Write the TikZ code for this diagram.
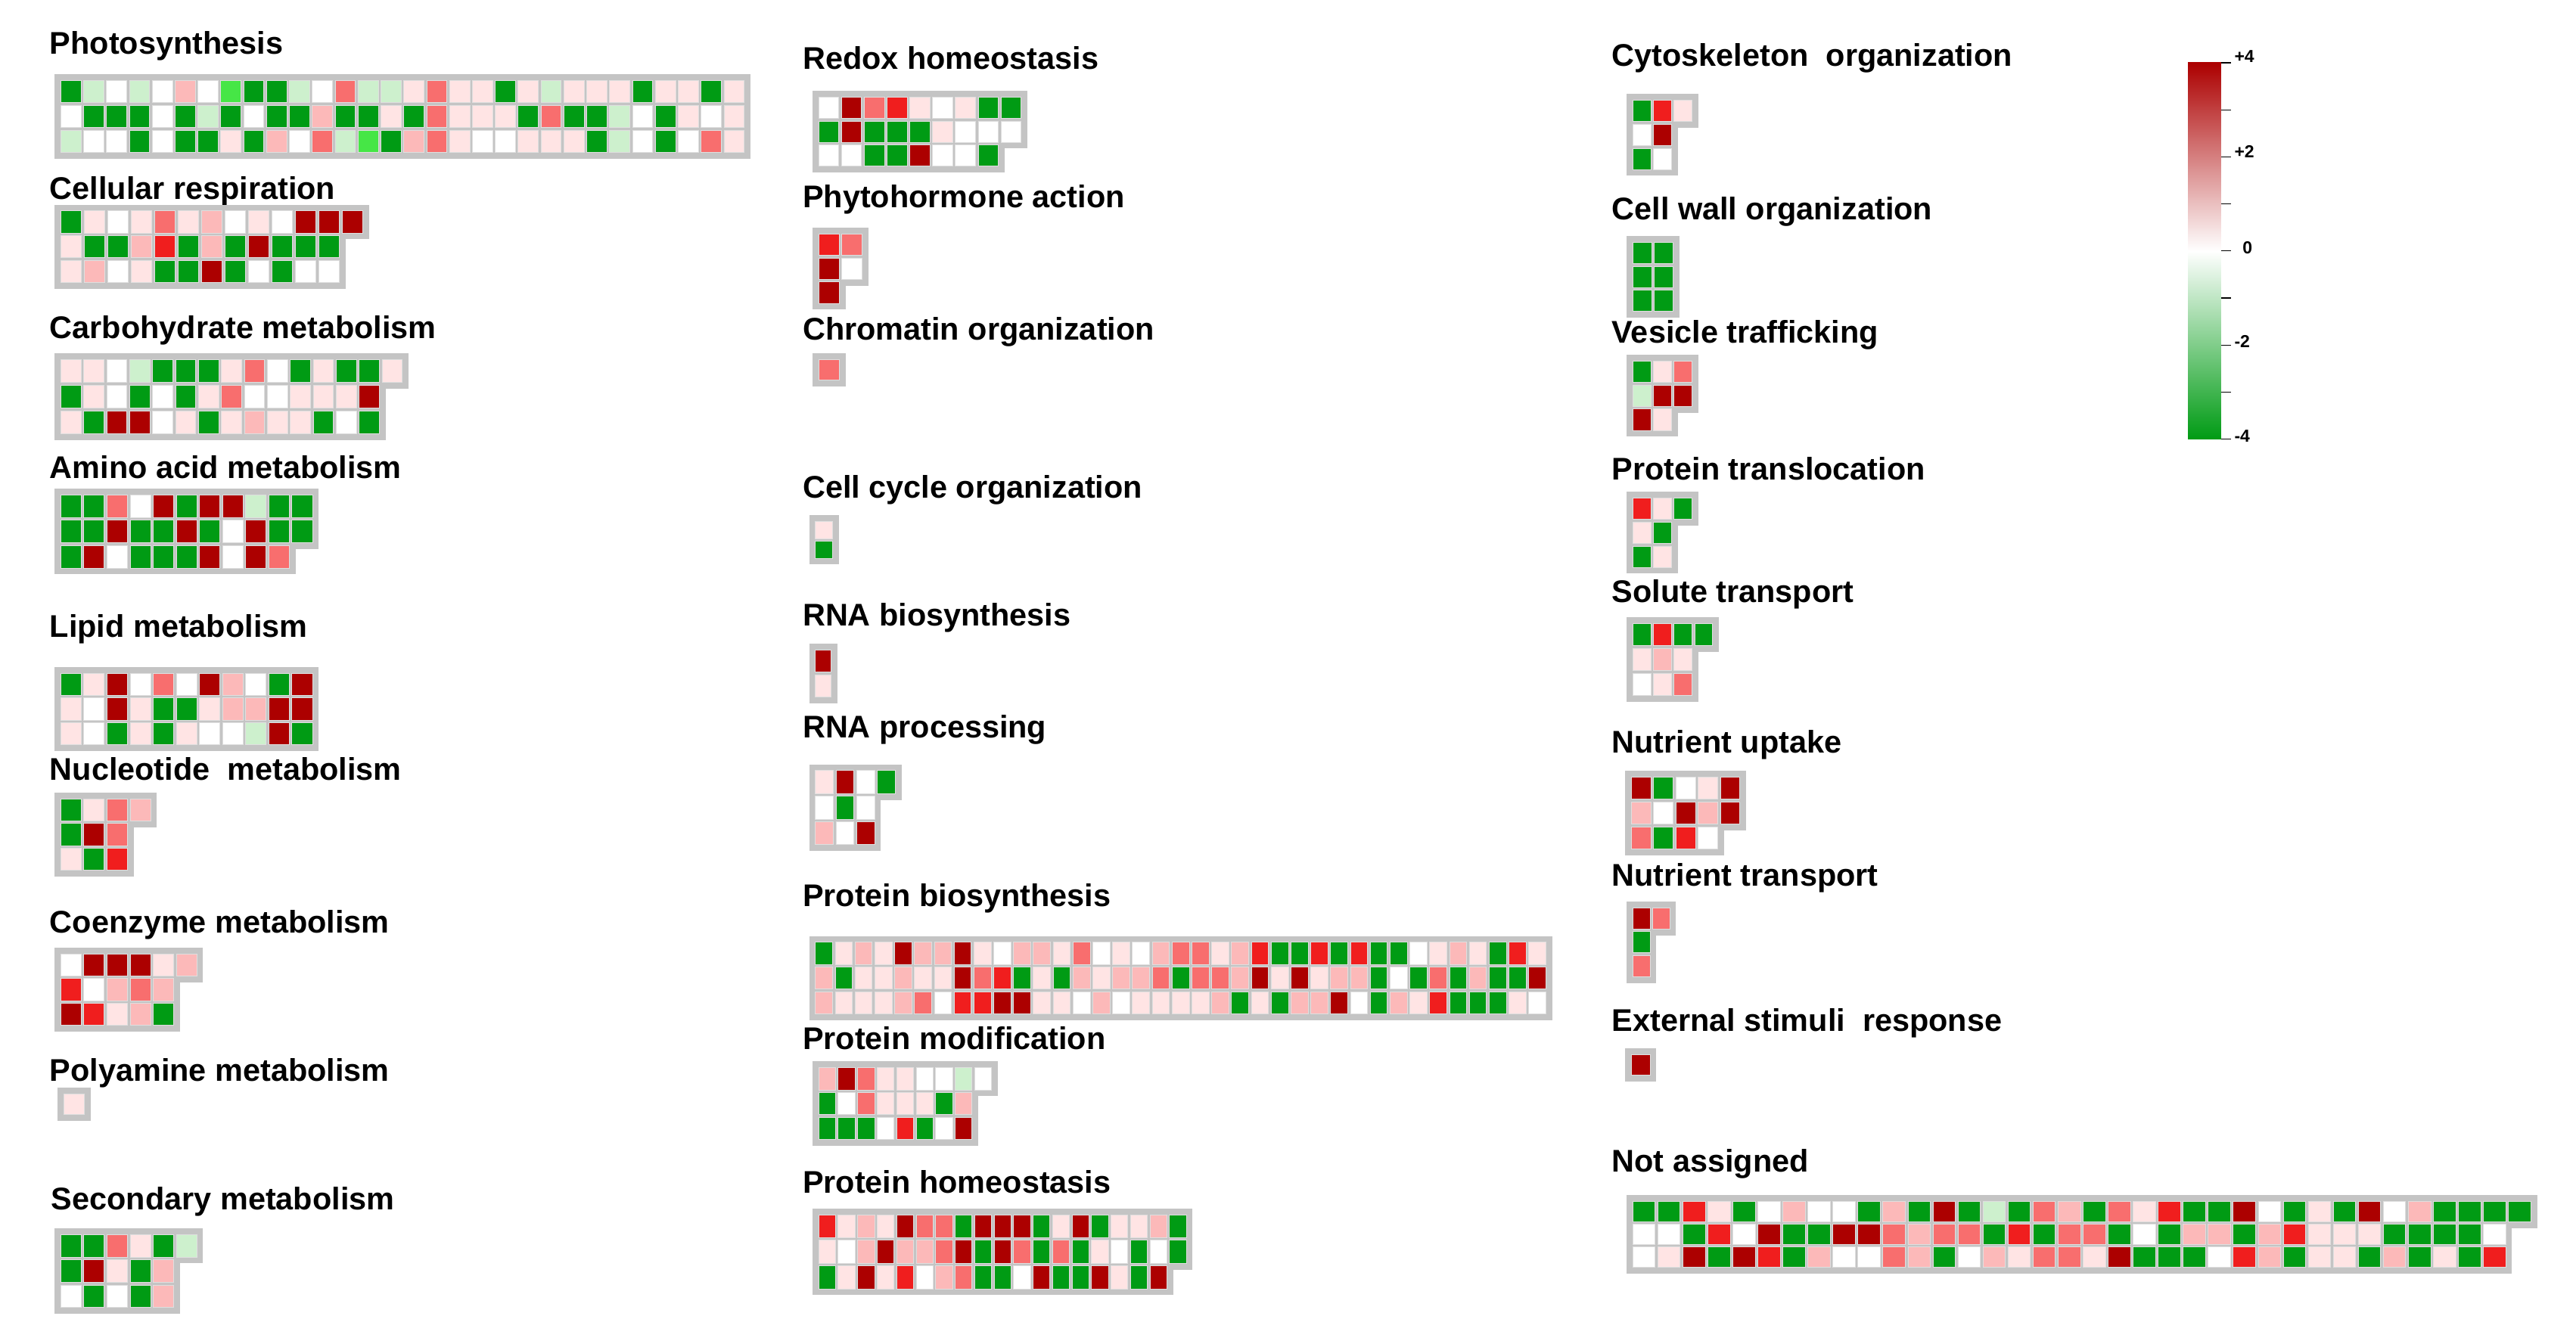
\documentclass[tikz,border=0pt]{standalone}
\usepackage{fontspec}
\setmainfont{Liberation Sans}
\definecolor{cG}{RGB}{0,155,20}
\definecolor{cL}{RGB}{205,240,205}
\definecolor{cg}{RGB}{70,230,70}
\definecolor{cW}{RGB}{255,255,255}
\definecolor{cq}{RGB}{255,228,228}
\definecolor{cp}{RGB}{252,185,185}
\definecolor{cP}{RGB}{248,110,110}
\definecolor{cR}{RGB}{240,30,30}
\definecolor{cD}{RGB}{172,0,0}
\definecolor{gbg}{RGB}{196,196,196}
\newcommand\hgrid[5]{%
 \foreach \r [count=\j from 0] in {#5}{\foreach \c [count=\i from 0] in \r {\fill[gbg] ({#1+\i*#3-3},{#2+\j*#4-3}) rectangle ++({#3+6},{#4+6});}}
 \foreach \r [count=\j from 0] in {#5}{\foreach \c [count=\i from 0] in \r {\fill[fill=c\c,draw=white!75!gray,line width=0.6pt] ({#1+\i*#3+0.8},{#2+\j*#4+0.8}) rectangle ++({#3-1.6},{#4-1.6});}}
}
\tikzset{ttl/.style={anchor=west,inner sep=0pt,font=\fontsize{27}{31}\selectfont\bfseries},
 lg/.style={anchor=west,inner sep=0pt,font=\fontsize{15}{18}\selectfont\bfseries}}
\begin{document}
\begin{tikzpicture}[x=0.05cm,y=-0.05cm]
\useasboundingbox (0,0) rectangle (1560,814);
% left column
\node[ttl] (t1) at (30,28) {Photosynthesis};
\hgrid{36}{48}{13.85}{15}{{G,L,W,L,W,p,W,g,G,G,L,W,P,L,L,q,P,q,q,G,q,L,q,q,q,G,q,q,G,q},{W,G,G,G,W,G,L,G,W,G,G,p,G,G,q,G,P,q,q,q,G,P,G,G,L,W,G,q,W,q},{L,W,W,G,W,G,G,q,G,p,W,P,L,g,G,p,P,q,W,W,q,q,q,G,L,W,G,W,P,q}}
\node[ttl] (t2) at (30,116) {Cellular respiration};
\hgrid{36}{127}{14.2}{15}{{G,q,W,q,P,q,p,W,q,W,D,D,D},{q,G,G,p,R,G,p,G,D,G,G,G},{q,p,W,q,G,G,D,G,W,G,W,W}}
\node[ttl] (t3) at (30,200) {Carbohydrate metabolism};
\hgrid{36}{217}{13.9}{15.5}{{q,q,W,L,G,G,G,q,P,W,G,q,G,G,q},{G,q,W,G,W,G,q,P,W,W,q,q,q,D},{q,G,D,D,W,q,G,q,p,q,q,G,W,G}}
\node[ttl] (t4) at (30,283) {Amino acid metabolism};
\hgrid{36}{299}{14}{15.3}{{G,G,P,W,D,G,D,D,L,G,G},{G,G,D,G,G,D,G,W,D,G,G},{G,D,W,G,G,G,D,W,D,P}}
\node[ttl] (t5) at (30,381) {Lipid metabolism};
\hgrid{36}{407}{14}{15}{{G,q,D,W,P,W,D,p,W,G,D},{q,W,D,q,G,G,q,p,p,D,D},{q,W,G,q,G,q,W,W,L,D,G}}
\node[ttl] (t6) at (30,466) {Nucleotide\ \ metabolism};
\hgrid{36}{483}{14}{15}{{G,q,P,p},{G,D,P},{q,G,R}}
\node[ttl] (t7) at (30,560) {Coenzyme metabolism};
\hgrid{36}{577}{14}{15}{{W,D,D,D,q,p},{R,W,p,P,p},{D,R,q,p,G}}
\node[ttl] (t8) at (30,650) {Polyamine metabolism};
\hgrid{38}{662}{14}{14}{{q}}
\node[ttl] (t9) at (31,728) {Secondary metabolism};
\hgrid{36}{747}{14}{15.3}{{G,G,P,q,G,L},{G,D,q,G,p},{W,G,W,G,p}}
% middle column
\node[ttl] (m1) at (486,35) {Redox homeostasis};
\hgrid{495}{58}{13.8}{14.5}{{W,D,P,R,q,W,q,G,G},{G,D,G,G,G,q,W,W,W},{W,W,G,G,D,W,W,G}}
\node[ttl] (m2) at (486,121) {Phytohormone action};
\hgrid{495}{141}{14}{14.5}{{R,P},{D,W},{D}}
\node[ttl] (m3) at (486,201) {Chromatin organization};
\hgrid{495}{217}{14}{14}{{P}}
\node[ttl] (m4) at (486,297) {Cell cycle organization};
\hgrid{493}{315}{12}{12}{{q},{G}}
\node[ttl] (m5) at (486,374) {RNA biosynthesis};
\hgrid{493}{393}{11}{15}{{D},{q}}
\node[ttl] (m6) at (486,442) {RNA processing};
\hgrid{493}{466}{12.5}{15.5}{{q,D,W,G},{W,G,W},{p,W,D}}
\node[ttl] (m7) at (486,544) {Protein biosynthesis};
\hgrid{493}{570}{12.0}{15}{{G,q,p,q,D,p,p,D,q,W,p,p,q,P,W,q,W,p,P,P,q,p,R,G,G,R,G,R,G,G,W,q,p,q,G,R,q},{p,G,q,q,p,q,q,D,P,R,G,q,G,p,q,p,p,P,G,P,P,p,D,q,D,q,p,p,G,W,G,P,G,p,G,G,D},{p,q,q,q,p,P,W,R,R,D,D,q,q,W,p,W,q,q,q,q,p,G,q,G,p,p,D,W,G,p,q,R,G,G,G,q,W}}
\node[ttl] (m8) at (486,629) {Protein modification};
\hgrid{495}{646}{11.8}{15}{{p,D,P,q,q,W,W,L,W},{G,W,P,q,q,q,G,p},{G,G,G,W,R,G,W,D}}
\node[ttl] (m9) at (486,716) {Protein homeostasis};
\hgrid{495}{735}{11.8}{15.5}{{R,q,p,q,D,P,P,G,D,D,D,G,q,D,G,q,q,p,G},{q,W,p,D,p,p,P,D,G,D,P,G,P,G,q,W,G,W,G},{G,q,D,q,R,W,p,P,G,G,W,D,G,G,D,q,G,D}}
% right column
\node[ttl] (r1) at (976,35) {Cytoskeleton\ \ organization};
\hgrid{988}{60}{12.5}{14.5}{{G,R,q},{W,D},{G,W}}
\node[ttl] (r2) at (976,128) {Cell wall organization};
\hgrid{988}{146}{13}{14.5}{{G,G},{G,G},{G,G}}
\node[ttl] (r3) at (976,203) {Vesicle trafficking};
\hgrid{988}{218}{12.5}{14.5}{{G,q,P},{L,D,D},{D,q}}
\node[ttl] (r4) at (976,284) {Protein translocation};
\hgrid{988}{301}{12.5}{14.5}{{R,q,G},{q,G},{G,q}}
\node[ttl] (r5) at (976,360) {Solute transport};
\hgrid{988}{377}{12.5}{15}{{G,R,G,G},{q,p,q},{W,q,P}}
\node[ttl] (r6) at (976,451) {Nutrient uptake};
\hgrid{987}{470}{13.5}{15}{{D,G,W,q,D},{p,W,D,p,D},{P,G,R,W}}
\node[ttl] (r7) at (976,532) {Nutrient transport};
\hgrid{988}{549}{12}{14.5}{{D,P},{G},{P}}
\node[ttl] (r8) at (976,620) {External stimuli\ \ response};
\hgrid{987}{638}{13}{14}{{D}}
\node[ttl] (r9) at (976,705) {Not assigned};
\hgrid{988}{727}{15.15}{13.8}{{G,G,R,q,G,W,p,W,W,G,p,G,D,G,L,G,P,p,G,P,q,R,G,G,D,W,G,q,G,D,W,p,G,G,G,G},{W,W,G,R,W,D,G,G,D,D,P,p,P,P,G,R,G,P,P,G,W,G,p,p,G,p,R,q,q,q,G,G,G,G,W},{W,q,D,G,D,R,G,p,W,W,P,p,G,W,p,q,P,P,q,D,G,G,G,W,R,p,G,q,q,G,p,G,q,G,R}}
% legend
\shade[top color=cD, bottom color=cG, middle color=white] (1325,38) rectangle (1345,266);
\node[inner sep=0pt,minimum width=20*0.05cm,minimum height=228*0.05cm,anchor=north west] (bar) at (1325,38) {};
\foreach \k in {0,...,8}{\draw[line width=0.8pt] (1345,{38+\k*28.5}) -- (1351,{38+\k*28.5});}
\node[lg] (l1) at (1353,34) {+4};
\node[lg] (l2) at (1353,92) {+2};
\node[lg] (l3) at (1358,150) {0};
\node[lg] (l4) at (1353,207) {-2};
\node[lg] (l5) at (1353,264) {-4};
\end{tikzpicture}
\end{document}
